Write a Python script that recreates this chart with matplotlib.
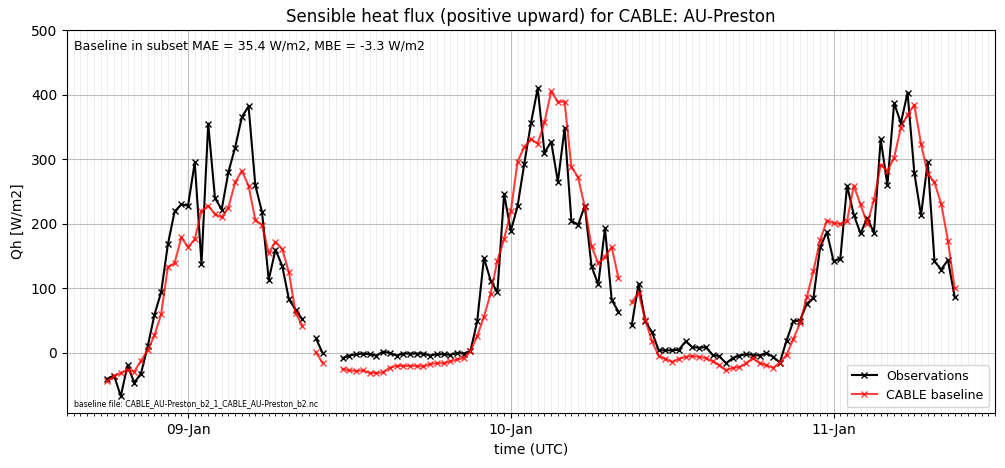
import numpy as np
import pandas as pd
import matplotlib
matplotlib.use("Agg")
import matplotlib.pyplot as plt
import matplotlib.dates as mdates

nan = np.nan

# half-hourly, starting 2008? date irrelevant; days shown as 08..11 Jan
times = pd.date_range("2003-01-08 18:00", periods=127, freq="30min")

obs = [-40, -35, -67, -19, -46, -32, 10, 59, 94, 168, 219, 230, 228, 295, 138, 355, 240, 222, 280, 318,
       365, 382, 260, 218, 113, 160, 135, 83, 67, 52, nan, 23, 0, nan, nan,
       -8, -4, -2, -1, -2, -4, 2, 0, -4, -1, -1, -1, -1, -4, -2, -2, -3, 0, -1, 3,
       49, 147, 112, 94, 246, 189, 227, 293, 356, 410, 310, 327, 265, 348, 205, 198, 228, 134, 106, 193,
       82, 64, nan, 44, 107, 49, 32, 4, 4, 4, 5, 18, 9, 8, 9, -3, -5, -16, -8, -4, -2, -3, -4, 0, -6, -15,
       19, 49, 50, 76, 85, 164, 187, 142, 146, 259, 214, 185, 209, 186, 331, 260, 387, 356, 403, 279, 213,
       296, 142, 129, 144, 87]

cable = [-44, -36, -31, -26, -29, -12, 4, 27, 60, 133, 139, 179, 164, 176, 220, 228, 215, 210, 225, 264,
         282, 259, 206, 198, 155, 172, 161, 125, 62, 42, nan, 1, -15, nan, nan,
         -25, -27, -28, -27, -31, -31, -30, -23, -20, -20, -20, -20, -21, -17, -16, -16, -13, -10, -8, 3,
         26, 56, 92, 143, 176, 219, 296, 319, 331, 324, 357, 405, 389, 389, 288, 272, 226, 165, 139, 149,
         164, 116, nan, 79, 93, 51, 18, -5, -9, -14, -9, -6, -5, -6, -8, -13, -19, -27, -23, -22, -16, -8,
         -16, -19, -23, -15, -3, 21, 46, 86, 127, 175, 205, 201, 200, 204, 259, 230, 200, 237, 291, 282, 302,
         349, 369, 384, 324, 277, 264, 231, 174, 100]

fig = plt.figure(figsize=(10.05, 4.68), dpi=100)
ax = fig.add_axes([67 / 1005, 1 - 413 / 468, (995 - 67) / 1005, (413 - 30) / 468])

ax.plot(times, obs, color="black", marker="x", markersize=4, linewidth=1.5, label="Observations")
ax.plot(times, cable, color="red", alpha=0.75, marker="x", markersize=4, linewidth=1.5, label="CABLE baseline")

ax.set_xlim(pd.Timestamp("2003-01-08 15:00"), pd.Timestamp("2003-01-11 12:00"))
ax.set_ylim(-93, 500)
ax.xaxis.set_major_locator(mdates.DayLocator())
ax.xaxis.set_major_formatter(mdates.DateFormatter("%d-%b"))
ax.xaxis.set_minor_locator(mdates.MinuteLocator(byminute=[0, 30]))
ax.grid(True, which="major", color="#b0b0b0", linewidth=0.8, alpha=0.8)
ax.grid(True, which="minor", color="#b0b0b0", linewidth=0.5, alpha=0.3)

ax.set_title("Sensible heat flux (positive upward) for CABLE: AU-Preston")
ax.set_xlabel("time (UTC)")
ax.set_ylabel("Qh [W/m2]")
ax.text(0.008, 0.975, "Baseline in subset MAE = 35.4 W/m2, MBE = -3.3 W/m2", transform=ax.transAxes,
        fontsize=9, va="top", ha="left")
ax.text(0.008, 0.012, "baseline file: CABLE_AU-Preston_b2_1_CABLE_AU-Preston_b2.nc", transform=ax.transAxes,
        fontsize=5.5, va="bottom", ha="left")
ax.legend(loc="lower right", fontsize=9)

fig.savefig("out.png")
